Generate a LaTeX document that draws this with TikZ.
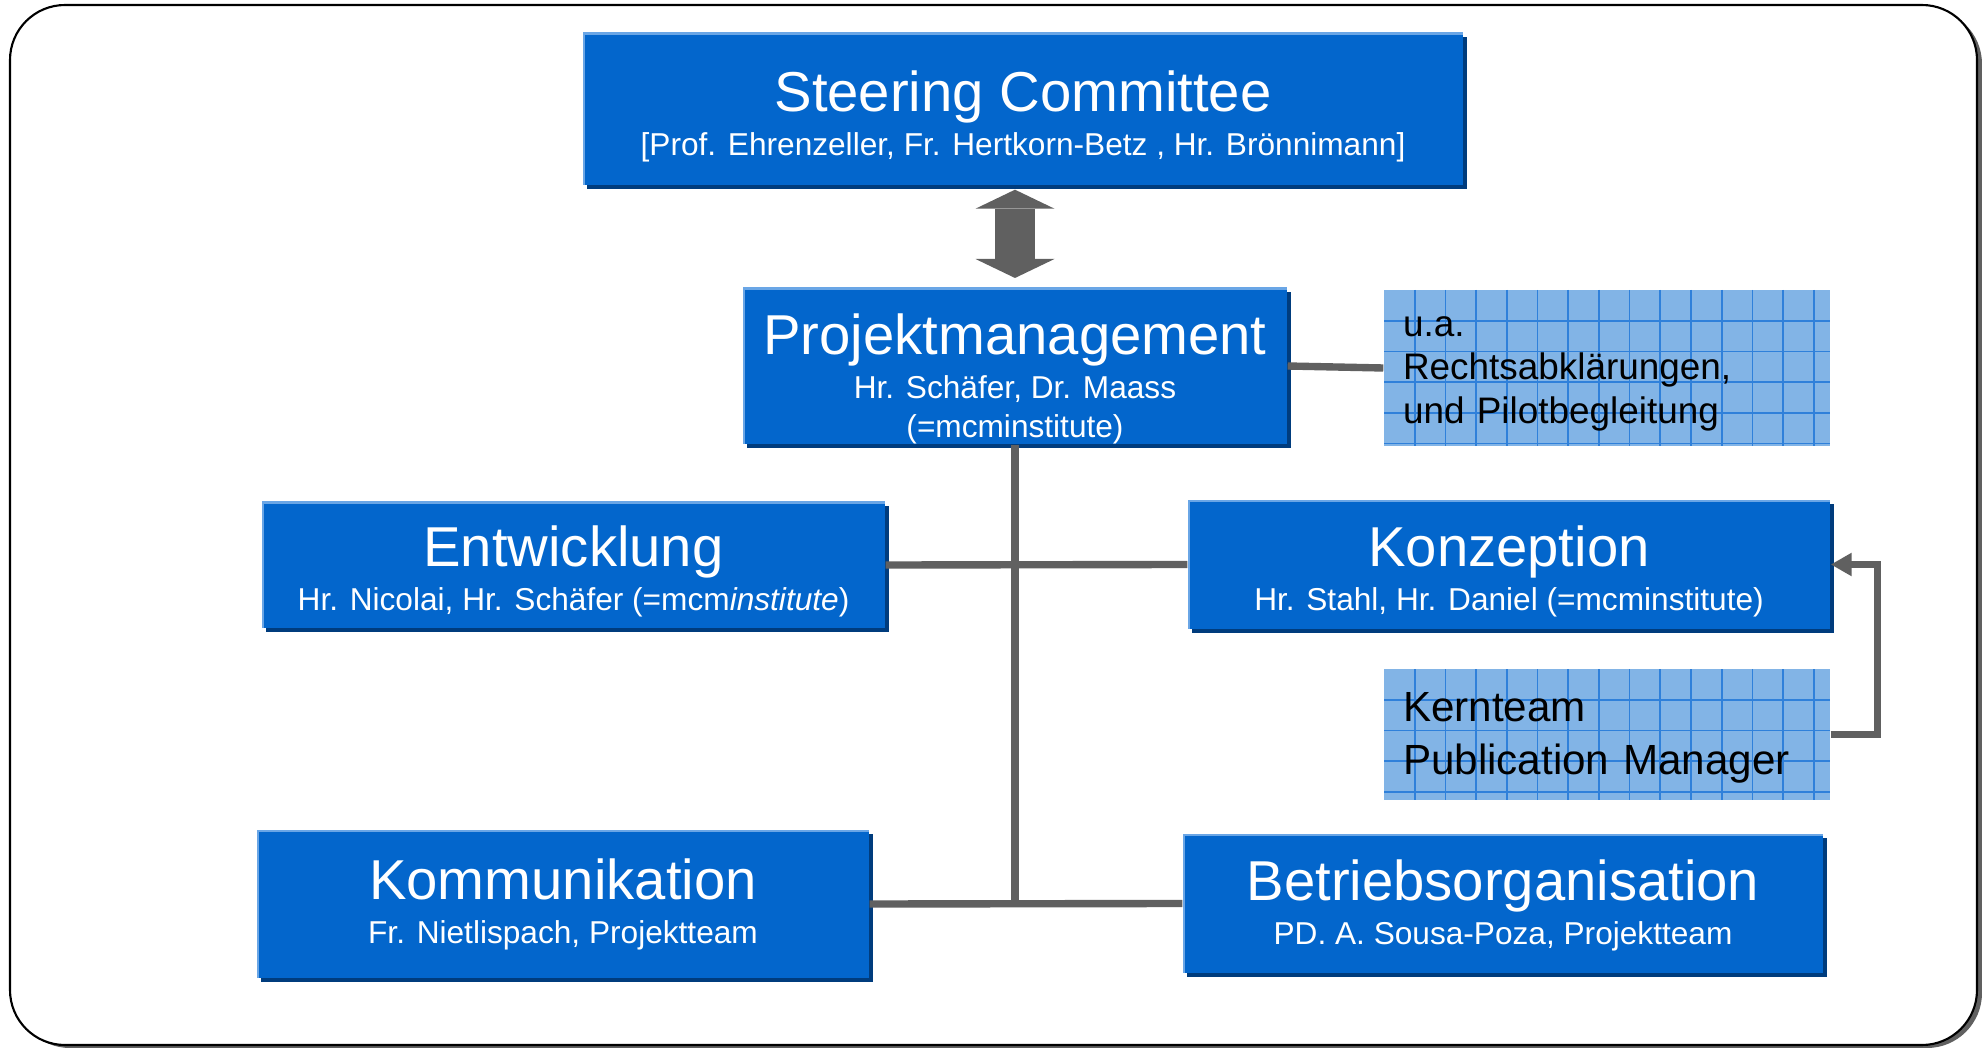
\documentclass[tikz,border=0pt]{standalone}
\usepackage{fontspec}
\setmainfont{Liberation Sans}
\usetikzlibrary{arrows.meta,shadows}
\definecolor{boxblue}{RGB}{3,102,204}
\definecolor{boxlight}{RGB}{106,166,230}
\definecolor{boxdark}{RGB}{0,60,125}
\definecolor{gridfill}{RGB}{130,180,230}
\definecolor{gridline}{RGB}{47,128,218}
\definecolor{linkgray}{RGB}{96,96,96}
% title line of a unit box, optional strut height moves the text down
\newcommand{\unittitle}[2][0pt]{{\fontsize{16}{16}\selectfont\rule{0pt}{#1}#2}\\[1.3pt]}

\begin{document}
\begin{tikzpicture}

  \tikzset{unit/.style={fill=boxblue, text=white, inner sep=0pt, align=center,
      font=\fontsize{9}{11.2}\selectfont,
      general shadow={fill=boxdark, shadow xshift=0.04cm, shadow yshift=-0.04cm},
      path picture={\draw[boxlight, line width=1.4pt] (path picture bounding box.south west) |- (path picture bounding box.north east);}}}
  \tikzset{note/.style={fill=gridfill, inner xsep=0.19cm, inner ysep=0pt, align=left, minimum width=4.46cm, text width=4.08cm,
      path picture={
        \foreach \k in {1,...,14}
          \draw[gridline, line width=0.5pt] ([xshift=\k*0.307cm]path picture bounding box.north west) -- ([xshift=\k*0.307cm]path picture bounding box.south west);
        \foreach \k in {1,...,5}
          \draw[gridline, line width=0.5pt] ([yshift=-\k*0.307cm]path picture bounding box.north west) -- ([yshift=-\k*0.307cm]path picture bounding box.north east);}}}
  \tikzset{link/.style={draw=linkgray, line width=2.1pt}}
  \tikzset{bigarrow/.style={draw=linkgray, line width=0.4cm,
      {Triangle[width=0.79cm,length=0.19cm,line width=0pt]}-{Triangle[width=0.79cm,length=0.19cm,line width=0pt]},
      shorten <=0.04cm, shorten >=0.09cm}}

\useasboundingbox (0,0) rectangle (19.82,-10.48);

% frame
\fill[linkgray, rounded corners=0.55cm] (0.15,-0.09) rectangle (19.82,-10.48);
\draw[fill=white, line width=0.6pt, rounded corners=0.55cm] (0.10,-0.05) rectangle (19.77,-10.45);

\node[unit, minimum width=8.80cm, minimum height=1.52cm] (sc) at (10.23,-1.09)
  {\unittitle[16pt]{Steering Committee}{[}Prof. Ehrenzeller, Fr. Hertkorn-Betz , Hr. Brönnimann{]}};
\node[unit, minimum width=5.44cm, minimum height=1.54cm] (pm) at (10.15,-3.66)
  {\unittitle[19pt]{Projektmanagement}Hr. Schäfer, Dr. Maass\\(=mcminstitute)};
\node[note, minimum height=1.56cm, font=\fontsize{10.5}{12.5}\selectfont] (ua) at (16.07,-3.68)
  {\rule{0pt}{9pt}u.a.\\Rechtsabklärungen,\\und Pilotbegleitung};

\node[unit, minimum width=6.23cm, minimum height=1.26cm] (entw) at (5.735,-5.65)
  {\unittitle[15.5pt]{Entwicklung}Hr. Nicolai, Hr. Schäfer (=mcm\textit{institute})};
\node[unit, minimum width=6.42cm, minimum height=1.29cm] (konz) at (15.09,-5.645)
  {\unittitle[15.5pt]{Konzeption}Hr. Stahl, Hr. Daniel (=mcminstitute)};
\node[note, minimum height=1.31cm, font=\fontsize{12}{15}\selectfont] (kern) at (16.07,-7.345)
  {\rule{0pt}{10pt}Kernteam\\Publication Manager};

\node[unit, minimum width=6.12cm, minimum height=1.48cm] (komm) at (5.63,-9.04)
  {\unittitle{Kommunikation}Fr. Nietlispach, Projektteam};
\node[unit, minimum width=6.40cm, minimum height=1.39cm] (betr) at (15.03,-9.035)
  {\unittitle[12.5pt]{Betriebsorganisation}PD. A. Sousa-Poza, Projektteam};

\coordinate (hub) at (pm.south |- komm.east);

\draw[bigarrow] (pm.north |- sc.south) -- (pm.north);
\draw[link] (pm.east) -- (ua.west);
\draw[link] (entw.east) -- (konz.west);
\draw[link] (komm.east) -- (betr.west);
\draw[link] (pm.south) -- (hub);
\draw[link, -{Triangle[width=0.22cm,length=0.21cm]}] (kern.east) -- ++(0.47,0) |- (konz.east);

\end{tikzpicture}
\end{document}
